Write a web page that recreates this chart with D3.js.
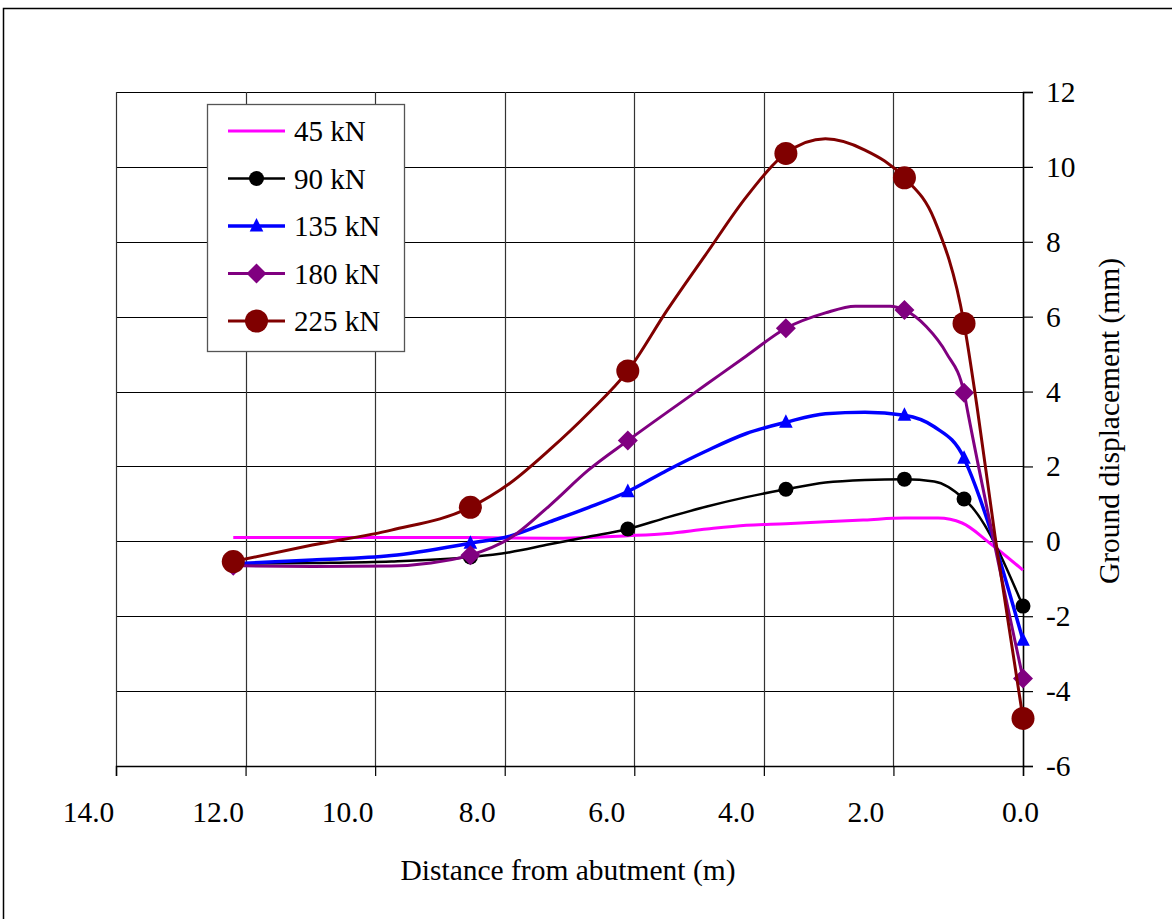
<!DOCTYPE html>
<html>
<head>
<meta charset="utf-8">
<script src="https://cdn.jsdelivr.net/npm/d3@7"></script>
<style>
    body { margin: 0; background: #fff; }
    svg { display: block; font-family: "Liberation Serif", "Times New Roman", serif; }
</style>
</head>
<body>
<div id="chart"></div>
<script>
// distances (m) where the measured points are marked
var markerDist = [12.19, 8.53, 6.10, 3.66, 1.83, 0.91, 0];

// profiles [distance, displacement]
var s45 = [[12.19, 0.10], [10.97, 0.10], [9.75, 0.10], [8.53, 0.10], [7.31, 0.08], [6.10, 0.15],
    [5.49, 0.21], [4.88, 0.33], [4.27, 0.43], [3.66, 0.47], [3.05, 0.52], [2.44, 0.57],
    [1.83, 0.62], [1.31, 0.62], [0.94, 0.49], [0.51, -0.05], [0, -0.77]];
var s90 = [[12.19, -0.60], [10.97, -0.58], [9.75, -0.54], [8.53, -0.42], [7.92, -0.29], [7.31, -0.08],
    [6.71, 0.12], [6.10, 0.33], [5.49, 0.64], [4.88, 0.93], [4.27, 1.18], [3.66, 1.39],
    [3.05, 1.57], [2.44, 1.64], [1.83, 1.66], [1.37, 1.60], [0.91, 1.13], [0.79, 0.92], [0, -1.73]];
var s135 = [[12.19, -0.60], [10.97, -0.50], [9.75, -0.38], [8.53, -0.05], [7.92, 0.14], [7.31, 0.52],
    [6.71, 0.90], [6.10, 1.33], [5.49, 1.90], [4.88, 2.42], [4.27, 2.88], [3.66, 3.18],
    [3.05, 3.41], [2.44, 3.45], [1.83, 3.37], [1.37, 3.06], [0.91, 2.22], [0.85, 1.98], [0, -2.64]];
var s180 = [[12.19, -0.65], [10.97, -0.67], [9.75, -0.66], [9.14, -0.58], [8.53, -0.37], [7.92, 0.08],
    [7.31, 0.95], [6.71, 1.90], [6.10, 2.69], [5.49, 3.45], [4.88, 4.20], [4.27, 4.95],
    [3.66, 5.69], [3.05, 6.10], [2.59, 6.28], [2.05, 6.28], [1.83, 6.18], [1.49, 5.73],
    [1.18, 5.02], [0.91, 3.97], [0.85, 3.43], [0, -3.66]];
var s225 = [[12.19, -0.54], [10.97, -0.10], [9.75, 0.30], [8.53, 0.91], [7.92, 1.55], [7.31, 2.44],
    [6.71, 3.42], [6.10, 4.55], [5.49, 6.18], [4.88, 7.70], [4.27, 9.20], [3.66, 10.36],
    [3.05, 10.75], [2.44, 10.45], [1.83, 9.71], [1.37, 8.60], [0.91, 5.82], [0.71, 3.60],
    [0.43, 0.12], [0, -4.73]];

var seriesNames = ['45 kN', '90 kN', '135 kN', '180 kN', '225 kN'];
var seriesData = [s45, s90, s135, s180, s225];
var xTicks = [14, 12, 10, 8, 6, 4, 2, 0];
var yTicks = [-6, -4, -2, 0, 2, 4, 6, 8, 10, 12];

var styles = [
    {color: '#ff00ff', width: 3, marker: null},
    {color: '#000000', width: 2.5, marker: 'circle', size: 7.5},
    {color: '#0000ff', width: 3.5, marker: 'triangle', size: 8},
    {color: '#800080', width: 3, marker: 'diamond', size: 10},
    {color: '#800000', width: 3, marker: 'circle', size: 11.5}
];

var W = 1172, H = 919;
var plot = {left: 116, right: 1023, top: 92, bottom: 766};
var FONT = '29.5px';

var svg = d3.select('#chart').append('svg').attr('width', W).attr('height', H);

// outer chart frame
svg.append('rect')
    .attr('x', 3.5).attr('y', 8.5).attr('width', W + 10).attr('height', H + 10)
    .attr('fill', '#fff').attr('stroke', '#000').attr('stroke-width', 1.5);

var x = d3.scaleLinear().domain([14, 0]).range([plot.left, plot.right]);
var y = d3.scaleLinear().domain([-6, 12]).range([plot.bottom, plot.top]);

// grid
var grid = svg.append('g').attr('class', 'grid');
grid.selectAll('line.h').data(yTicks).enter().append('line')
    .attr('x1', plot.left).attr('x2', plot.right)
    .attr('y1', function (d) { return Math.round(y(d)) + 0.5; })
    .attr('y2', function (d) { return Math.round(y(d)) + 0.5; })
    .attr('stroke', '#000').attr('stroke-width', 1.2);
grid.selectAll('line.v').data(xTicks).enter().append('line')
    .attr('y1', plot.top).attr('y2', plot.bottom)
    .attr('x1', function (d) { return Math.round(x(d)) + 0.5; })
    .attr('x2', function (d) { return Math.round(x(d)) + 0.5; })
    .attr('stroke', '#333').attr('stroke-width', 1.2);

// axes
var xAxis = d3.axisBottom(x).tickValues(xTicks).tickFormat(d3.format('.1f'))
    .tickSize(10).tickPadding(25);
var yAxis = d3.axisRight(y).tickValues(yTicks).tickFormat(function (d) { return String(d); })
    .tickSize(10).tickPadding(13);

var gx = svg.append('g').attr('transform', 'translate(0,' + plot.bottom + ')').call(xAxis);
var gy = svg.append('g').attr('transform', 'translate(' + plot.right + ',0)').call(yAxis);
[gx, gy].forEach(function (g) {
    g.select('.domain').attr('stroke', '#000').attr('stroke-width', 1.5);
    g.selectAll('.tick line').attr('stroke', '#000').attr('stroke-width', 1.2);
    g.selectAll('.tick text').attr('fill', '#000')
        .style('font-size', FONT).style('font-family', '"Liberation Serif", serif');
});
gy.selectAll('.tick text').attr('text-anchor', 'start');
// category-style labels sit left of their tick, the last one is pushed back in
gx.selectAll('.tick text').attr('dx', function (d) { return d === 0 ? -3 : -28; });

// axis titles
svg.append('text')
    .attr('x', 568).attr('y', 880)
    .attr('text-anchor', 'middle').style('font-size', FONT)
    .text('Distance from abutment (m)');
svg.append('text')
    .attr('transform', 'translate(1119,421) rotate(-90)')
    .attr('text-anchor', 'middle').style('font-size', FONT)
    .text('Ground displacement (mm)');

function markerPath(type, r) {
    if (type === 'circle') {
        return d3.symbol().type(d3.symbolCircle).size(Math.PI * r * r)();
    }
    if (type === 'triangle') {
        return 'M0,' + (-r) + 'L' + (r * 0.85) + ',' + (r * 0.7) + 'L' + (-r * 0.85) + ',' + (r * 0.7) + 'Z';
    }
    return 'M0,' + (-r) + 'L' + r + ',0L0,' + r + 'L' + (-r) + ',0Z';
}

var line = d3.line()
    .x(function (d) { return x(d[0]); })
    .y(function (d) { return y(d[1]); })
    .curve(d3.curveMonotoneX);

var gs = svg.append('g').attr('class', 'series');
seriesData.forEach(function (data, i) {
    var st = styles[i];
    var g = gs.append('g');
    g.append('path').datum(data)
        .attr('d', line)
        .attr('fill', 'none')
        .attr('stroke', st.color)
        .attr('stroke-width', st.width)
        .attr('stroke-linejoin', 'round');
    if (st.marker) {
        var pts = data.filter(function (d) { return markerDist.indexOf(d[0]) >= 0; });
        g.selectAll('path.m').data(pts).enter().append('path')
            .attr('class', 'm')
            .attr('transform', function (d) { return 'translate(' + x(d[0]) + ',' + y(d[1]) + ')'; })
            .attr('d', markerPath(st.marker, st.size))
            .attr('fill', st.color);
    }
});

// legend
var lg = svg.append('g').attr('class', 'legend');
lg.append('rect')
    .attr('x', 207.5).attr('y', 104.5).attr('width', 197).attr('height', 247)
    .attr('fill', '#fff').attr('stroke', '#555').attr('stroke-width', 1.3);
seriesNames.forEach(function (name, i) {
    var st = styles[i];
    var cy = 131 + i * 47.5;
    lg.append('line')
        .attr('x1', 228).attr('x2', 285).attr('y1', cy).attr('y2', cy)
        .attr('stroke', st.color).attr('stroke-width', st.width);
    if (st.marker) {
        lg.append('path')
            .attr('transform', 'translate(256.5,' + cy + ')')
            .attr('d', markerPath(st.marker, st.size))
            .attr('fill', st.color);
    }
    lg.append('text')
        .attr('x', 294).attr('y', cy + 10)
        .style('font-size', '29px')
        .text(name);
});
</script>
</body>
</html>
